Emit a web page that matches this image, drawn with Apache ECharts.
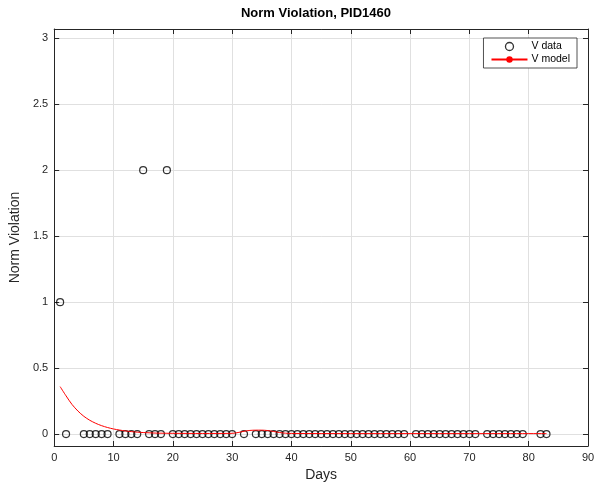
<!DOCTYPE html>
<html>
<head>
<meta charset="utf-8">
<script src="https://cdn.jsdelivr.net/npm/echarts@6/dist/echarts.min.js"></script>
<style>html,body{margin:0;padding:0;background:#fff}#c{width:602px;height:491px}</style>
</head>
<body>
<div id="c"></div>
<script>
var dataDays = [1,2,5,6,7,8,9,11,12,13,14,15,16,17,18,19,20,21,22,23,24,25,26,27,28,29,30,32,34,35,36,37,38,39,40,41,42,43,44,45,46,47,48,49,50,51,52,53,54,55,56,57,58,59,61,62,63,64,65,66,67,68,69,70,71,73,74,75,76,77,78,79,82,83];
var dataValues = [1,0,0,0,0,0,0,0,0,0,0,2,0,0,0,2,0,0,0,0,0,0,0,0,0,0,0,0,0,0,0,0,0,0,0,0,0,0,0,0,0,0,0,0,0,0,0,0,0,0,0,0,0,0,0,0,0,0,0,0,0,0,0,0,0,0,0,0,0,0,0,0,0,0];
var modelDays = [1,2,3,4,5,6,7,8,9,10,11,12,13,14,15,16,17,18,20,25,30,31,32,33,34,35,36,37,38,39,40,50,60,70,83];
var modelValues = [0.36,0.29,0.225,0.175,0.135,0.105,0.082,0.064,0.05,0.039,0.031,0.024,0.019,0.015,0.012,0.01,0.008,0.007,0.006,0.005,0.006,0.012,0.022,0.028,0.03,0.03,0.027,0.02,0.012,0.007,0.005,0.004,0.004,0.004,0.004];
var yTicks = [0,0.5,1,1.5,2,2.5,3];
var yTickLabels = ['0','0.5','1','1.5','2','2.5','3'];
var xTitle = 'Days', yTitle = 'Norm Violation', chartTitle = 'Norm Violation, PID1460';

var axisColor = '#262626';
var font = 'Liberation Sans, Arial, Helvetica, sans-serif';
var chart = echarts.init(document.getElementById('c'), null, {renderer: 'canvas'});
function pairs(xs, ys){ return xs.map(function(x,i){ return [x, ys[i]]; }); }
chart.setOption({
  animation: false,
  backgroundColor: '#fff',
  title: {text: chartTitle, left: 311, top: 2, textAlign: 'center',
    textStyle: {fontFamily: font, fontSize: 13, fontWeight: 'bold', color: '#000'}},
  grid: {left: 52, right: 14, top: 29, bottom: 45, containLabel: false},
  legend: {
    right: 25, top: 38, orient: 'vertical', itemGap: 2, itemWidth: 36, itemHeight: 8,
    padding: [3, 7, 3, 7], borderColor: axisColor, borderWidth: 0.8, backgroundColor: '#fff',
    textStyle: {fontFamily: font, fontSize: 10.5, color: '#000', padding: [0,0,0,-1]},
    data: [
      {name: 'V data', icon: 'circle', itemStyle: {color: 'rgba(255,255,255,0)', borderColor: '#000', borderWidth: 1.3}},
      'V model'
    ]
  },
  xAxis: [{
    type: 'value', min: 0, max: 90, interval: 10, position: 'bottom',
    name: xTitle, nameLocation: 'middle', nameGap: 22,
    nameTextStyle: {fontFamily: font, fontSize: 14, color: axisColor},
    axisLine: {onZero: false, lineStyle: {color: axisColor, width: 1}},
    axisTick: {inside: true, length: 5, lineStyle: {color: axisColor}},
    axisLabel: {fontFamily: font, fontSize: 11, color: axisColor, margin: 6},
    splitLine: {show: true, lineStyle: {color: '#e0e0e0', width: 1}}
  }, {
    type: 'value', min: 0, max: 90, interval: 10, position: 'top',
    axisLine: {onZero: false, lineStyle: {color: axisColor, width: 1}},
    axisTick: {inside: true, length: 5, lineStyle: {color: axisColor}},
    axisLabel: {show: false}, splitLine: {show: false}
  }],
  yAxis: [{
    type: 'value', min: -0.09, max: 3.07, position: 'left',
    name: yTitle, nameLocation: 'middle', nameGap: 27,
    nameTextStyle: {fontFamily: font, fontSize: 14, color: axisColor},
    axisLine: {onZero: false, lineStyle: {color: axisColor, width: 1}},
    axisTick: {inside: true, length: 5, customValues: yTicks, lineStyle: {color: axisColor}},
    axisLabel: {fontFamily: font, fontSize: 11, color: axisColor, margin: 6, customValues: yTicks,
      formatter: function(v){ var i = yTicks.indexOf(v); return i >= 0 ? yTickLabels[i] : ''; }},
    splitLine: {show: true, lineStyle: {color: '#e0e0e0', width: 1}}
  }, {
    type: 'value', min: -0.09, max: 3.07, position: 'right',
    axisLine: {onZero: false, lineStyle: {color: axisColor, width: 1}},
    axisTick: {inside: true, length: 5, customValues: yTicks, lineStyle: {color: axisColor}},
    axisLabel: {show: false}, splitLine: {show: false}
  }],
  series: [{
    name: 'V data', type: 'scatter', xAxisIndex: 0, yAxisIndex: 0,
    symbol: 'circle', symbolSize: 7,
    itemStyle: {color: 'rgba(255,255,255,0)', borderColor: '#000', borderWidth: 1.2},
    data: pairs(dataDays, dataValues)
  }, {
    name: 'V model', type: 'line', xAxisIndex: 0, yAxisIndex: 0,
    symbol: 'none', smooth: 0.3,
    lineStyle: {color: '#ff0000', width: 1},
    itemStyle: {color: '#ff0000'},
    data: pairs(modelDays, modelValues)
  }]
});
</script>
</body>
</html>
